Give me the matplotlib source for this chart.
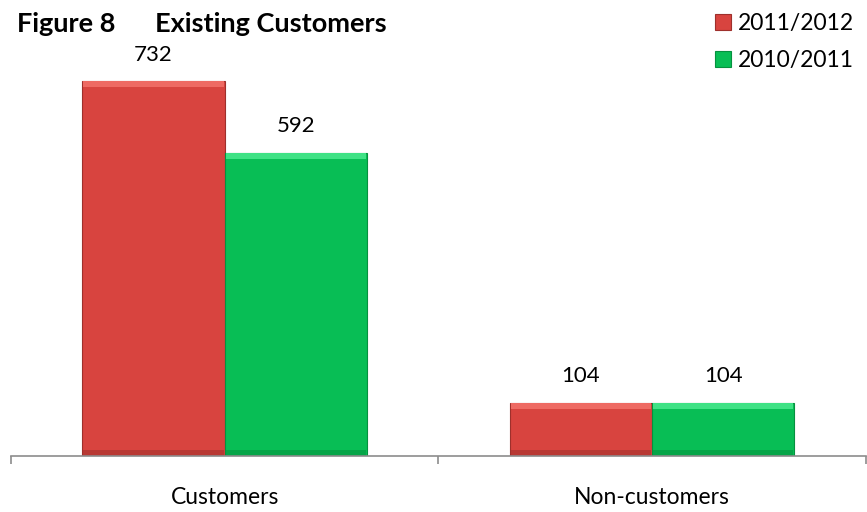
import matplotlib.pyplot as plt
import numpy as np

# 数据
categories = ["Customers", "Non-customers"]
series_names = ["2011/2012", "2010/2011"]
values_2011_2012 = [732, 104]
values_2010_2011 = [592, 104]

red = "#D8443F"
green = "#08BE55"
red_light = "#EE6A63"
green_light = "#3FE285"
red_dark = "#9E302C"
green_dark = "#06913F"

plt.rcParams['font.family'] = ['Lato', 'DejaVu Sans']

fig = plt.figure(figsize=(8.67, 5.12), dpi=100)
ax_h = 0.891
ax = fig.add_axes([0.0127, 0.109, 0.986, ax_h])

y_top = 890
px_per_unit = (ax_h * 512) / y_top

x = np.arange(len(categories))
w = 0.333


def draw_series(xpos, vals, col, col_light, col_dark, name):
    bars = ax.bar(xpos, vals, width=w, color=col,
                  edgecolor=col_dark, linewidth=0.8, label=name)
    # 简单的斜面效果
    band = 6 / px_per_unit
    n = len(vals)
    ax.bar(xpos, [band] * n, bottom=np.array(vals) - band, width=w * 0.985,
           color=col_light, linewidth=0)
    ax.bar(xpos, [band] * n, bottom=[0] * n, width=w * 0.985,
           color=col_dark, alpha=0.55, linewidth=0)
    for b, v in zip(bars, vals):
        ax.annotate(str(int(v)), (b.get_x() + b.get_width() / 2, v),
                    xytext=(0, 19), textcoords="offset points", ha="center", va="center",
                    fontsize=16, color="black")
    return bars


draw_series(x - w / 2, values_2011_2012, red, red_light, red_dark, series_names[0])
draw_series(x + w / 2, values_2010_2011, green, green_light, green_dark, series_names[1])

ax.set_xlim(-0.5, 1.5)
ax.set_ylim(0, y_top)
for s in ["top", "left", "right"]:
    ax.spines[s].set_visible(False)
ax.spines["bottom"].set_color("#8C8C8C")
ax.spines["bottom"].set_linewidth(1.2)
ax.set_yticks([])
ax.set_xticks(x)
ax.set_xticklabels(categories, fontsize=16.5)
ax.tick_params(axis="x", length=0, pad=22)
ax.set_xticks([-0.5, 0.5, 1.5], minor=True)
ax.tick_params(axis="x", which="minor", length=6, color="#8C8C8C", width=1.2)

fig.text(0.02, 0.953, "Figure 8      Existing Customers", fontsize=19.5, fontweight="bold",
         ha="left", va="center")

handles, labels = ax.get_legend_handles_labels()
fig.legend(handles[:2], labels[:2], loc="upper right", bbox_to_anchor=(1.0, 1.0),
           frameon=False, fontsize=16.5, handlelength=0.7, handleheight=0.7,
           handletextpad=0.3, labelspacing=0.7, borderaxespad=0.15)

plt.savefig("out.png", dpi=100)
